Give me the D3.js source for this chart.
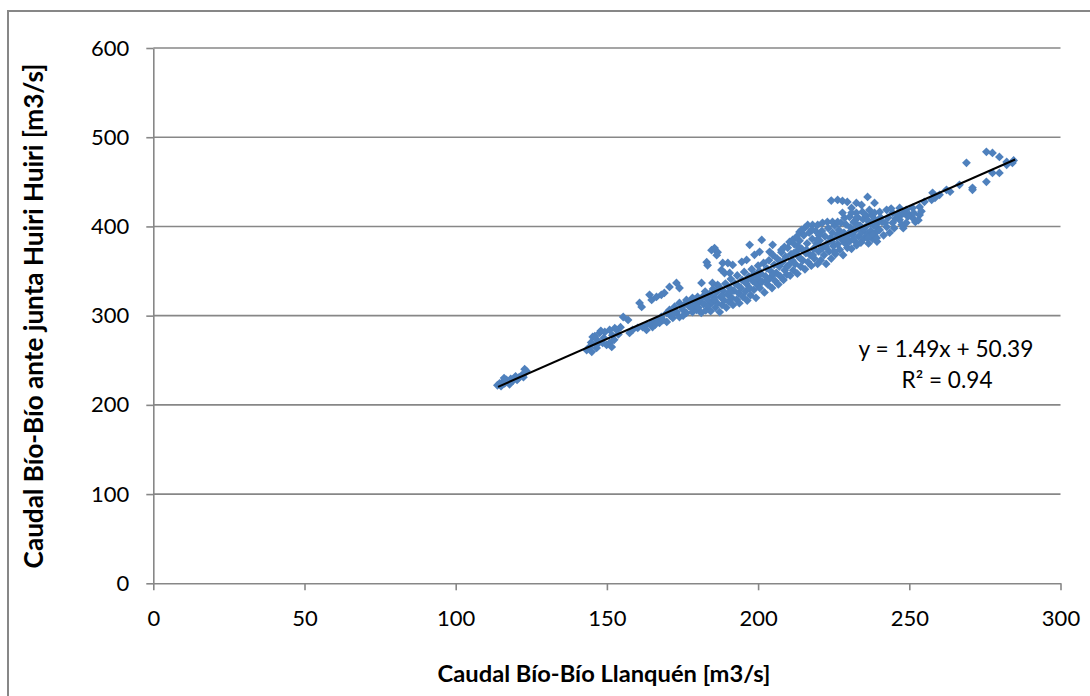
<!DOCTYPE html>
<html><head><meta charset="utf-8">
<script src="https://cdn.jsdelivr.net/npm/d3@7"></script>
<style>
html,body{margin:0;padding:0;background:#fff;}
svg{display:block;}
text{font-family:Lato,"Open Sans",sans-serif;fill:#000;}
</style></head>
<body>
<svg id="chart" width="1090" height="696"></svg>
<script>
// ---- data ----
const xTicks = [0, 50, 100, 150, 200, 250, 300];
const yTicks = [0, 100, 200, 300, 400, 500, 600];
const xTitle = "Caudal Bío-Bío Llanquén [m3/s]";
const yTitle = "Caudal Bío-Bío ante junta Huiri Huiri [m3/s]";
const slope = 1.49, intercept = 50.39;
const trendRange = [114, 285];
const eqText = "y = 1.49x + 50.39";
const r2Text = "R² = 0.94";

const clusterLow = [[113.8,222],[114.5,224],[115,221],[115.6,226],[116.2,224],[116.8,228],[117.3,226],[117.8,223],[118.2,229],[118.9,227],[119.5,230],[120.3,228],[121,231],[121.8,233],[122.4,231],[123,236],[123.4,238],[116,230],[119.8,232],[122.8,240]];
const clusterB = [[143.3,261.5],[145,259.4],[144.3,265],[145.3,276.2],[146.6,263.8],[146.6,267.2],[147.6,280.7],[148.6,269.4],[149.3,281.7],[149.9,267.2],[150.9,269.4],[150.9,284],[151.6,265],[153.2,284],[152.4,273],[147,272],[144.8,270],[149,275],[151.8,278],[153.8,279],[155.4,298.5],[157,295.2],[154.5,287],[146,277],[148,283],[152.6,286]];
const clusterC = [[157.5,280.6],[158.5,284],[160.2,286.2],[161.8,287.3],[163.1,289.6],[164.8,291.8],[166.4,295.2],[168,298.5],[169.8,303],[170.7,306.4],[172.4,310],[174,314.3],[176.3,317.6],[178.3,319.8],[180,321],[163.1,284],[165.1,287.3],[167.4,291.8],[169.8,293],[171.8,297.4],[174,298.5],[176.3,303],[178.3,304.1],[179.6,306.4],[160.8,314.3],[161.5,309.8],[164.1,323.3],[164.8,317.6],[166.4,321],[168,323.3],[169,325.5],[170.7,332.2],[173,336.7],[174,331],[166,290],[168.5,295],[171,300],[173,304],[175,307],[177,311],[179,313],[172,302],[175.5,312],[177.5,316],[179,318],[175.2,300],[177.8,309]];
const clusterD = [[184.6,373.4],[185.6,375.7],[186.6,371.2],[186.3,367.8],[183,359.9],[183.3,356.5],[188.3,359],[190,359],[191.6,356.8],[188.9,347.8],[190.6,347.8],[187.9,351.2],[181.3,336.7],[184.9,336.7],[186.6,334.4],[197.2,379.4],[201.2,384.9],[204.8,379.4],[203.8,371.5],[200.5,371.5],[198.8,368.2],[196.2,362.5],[194.6,360.3]];
const band1 = [[180.3,309],[180.7,316],[181.2,303],[181.6,321],[182,313],[182.5,327],[182.7,306],[183.2,318],[183.6,311],[183.9,324],[184.3,305],[184.8,315],[185.1,330],[185.4,320],[185.9,309],[186.2,326],[186.5,314],[187,333],[187.3,304],[187.6,321],[188.1,312],[188.4,328],[188.8,317],[189.2,336],[189.5,309],[189.9,324],[190.3,316],[190.6,331]];
const band2 = [[191,341],[191.3,320],[191.7,312],[192,328],[192.4,336],[192.9,318],[193.1,345],[193.6,325],[193.8,314],[194.3,331],[194.7,340],[195,321],[195.4,349],[195.8,327],[196.1,336],[196.4,317],[196.9,344],[197.2,331],[197.5,323],[197.9,352],[198.2,339],[198.6,329],[198.9,346],[199.3,320],[199.6,335],[200,356],[200.1,341]];
const band3 = [[200.6,331],[201,347],[201.3,338],[201.8,359],[202.1,326],[202.5,344],[202.9,353],[203.2,335],[203.6,362],[203.9,342],[204.2,350],[204.6,331],[204.9,368],[205.3,357],[205.6,339],[206,348],[206.3,364],[206.7,335],[207,355],[207.4,344],[207.7,371],[208.1,360],[208.4,340],[208.8,351],[209.1,366],[209.5,346],[209.8,376],[210.2,357],[207.7,373.7],[208.7,377],[210.4,382.6]];
const band4 = [[210.6,345],[210.9,369],[211.3,362],[211.6,351],[212,380],[212.3,358],[212.7,372],[213,347],[213.4,366],[213.7,384],[214.1,355],[214.4,375],[214.8,362],[215.1,390],[215.5,352],[215.8,370],[216.2,381],[216.5,360],[216.9,393],[217.2,368],[217.6,356],[217.9,386],[218.3,375],[218.6,364],[219,395],[219.3,381],[219.7,358],[220,372],[211.4,384.9],[212.7,388.3],[213.7,393.9],[215.4,398.3],[216.4,401.7],[218,401.7],[219.7,401.7],[214.4,396],[217.7,396]];
const band5 = [[220.4,384],[220.7,362],[221.1,395],[221.4,376],[221.8,368],[222.1,389],[222.5,358],[222.8,381],[223.2,398],[223.5,372],[223.9,387],[224.2,364],[224.6,393],[224.9,378],[225.3,401],[225.6,369],[226,388],[226.3,380],[226.7,396],[227,374],[227.4,404],[227.7,385],[228.1,368],[228.4,393],[228.8,381],[229.1,402],[229.5,376],[229.8,390],[221.3,404],[222.9,405],[224.6,405],[226.3,405],[228.6,409.6],[227.9,415.2]];
const band6 = [[230.2,383],[230.5,399],[230.9,375],[231.2,391],[231.6,405],[231.9,384],[232.3,396],[232.6,379],[233,410],[233.3,389],[233.7,401],[234,382],[234.4,394],[234.7,408],[235.1,387],[235.4,399],[235.8,412],[236.1,392],[236.5,381],[236.8,404],[237.2,395],[237.5,413],[237.9,386],[238.2,401],[238.6,408],[238.9,393],[239.3,383],[239.6,404]];
const bandFill = [[185.5,318],[188,322],[190.8,326],[193.3,334],[195.9,339],[198,344],[200.4,350],[202.8,339],[205,346],[207.2,361],[209.6,355],[211.8,370],[214,364],[216,374],[218.1,368],[220.2,390],[222.4,377],[224.4,383],[226.5,391],[228.6,386],[230.7,395],[232.8,402],[234.9,397],[237,389],[239.1,399],[213.2,378],[219.5,385],[225.1,372],[231.4,386],[236.3,407]];
const upperOut = [[224.2,429],[226.3,429.7],[227.9,428.6],[229.5,427.5],[230.9,420.7],[232.5,426.3],[234.2,424],[236.2,433.1],[236.8,418.5],[234.5,416.3],[232.5,415.2],[230.9,415.2],[230.2,410.7],[232.5,409.6],[238.5,426.4],[238.5,415.2]];
const clusterE = [[240.2,416.3],[242.5,418.6],[244.5,415.2],[246.8,420.8],[249,418.6],[251.1,420.8],[253.4,421.9],[253.4,412.9],[251.1,409.6],[249,404],[246.8,407.4],[244.5,404],[242.5,399.5],[240.2,396.1],[237.9,390.5],[239.2,387.1],[236.2,387.1],[241,405],[243,410],[245,398],[247,412],[248,398],[250,413],[252,405],[254,417],[241.5,390],[243.5,393],[245.5,409],[247.5,402],[249.5,411],[251.5,415],[253,407],[240.5,410],[242,404],[244,420],[246,414],[248,415]];
const clusterHigh = [[255,427.6],[257.4,429.8],[257.7,437.7],[260,435.4],[262.3,441],[266.6,446.6],[268.9,471.3],[270.9,443.3],[270.9,441],[275.5,450],[275.5,483.6],[277.5,482.4],[279.8,477.9],[277.5,460],[279.8,460],[282.2,472.3],[284.1,471.2],[282.2,469],[284.5,474],[263.5,439],[258.5,432]];

const points = [].concat(clusterLow, clusterB, clusterC, clusterD, band1, band2, band3, band4, band5, band6, bandFill, upperOut, clusterE, clusterHigh);

// ---- layout ----
const svg = d3.select("#chart");
const mLeft = 153.3, mRight = 1060.5, mTop = 48, mBottom = 583.3;
const x = d3.scaleLinear().domain([0, 300]).range([mLeft, mRight]);
const y = d3.scaleLinear().domain([0, 600]).range([mBottom, mTop]);
const grey = "#878787";

svg.append("rect").attr("x", 8).attr("y", 11).attr("width", 1100).attr("height", 720)
  .attr("fill", "none").attr("stroke", grey).attr("stroke-width", 2);

// gridlines
svg.append("g").selectAll("line").data(yTicks.filter(d => d > 0)).join("line")
  .attr("x1", mLeft).attr("x2", mRight)
  .attr("y1", d => y(d)).attr("y2", d => y(d))
  .attr("stroke", grey).attr("stroke-width", 1.6);

// axes
const xAxis = d3.axisBottom(x).tickValues(xTicks).tickSize(7).tickPadding(20).tickSizeOuter(0);
const gx = svg.append("g").attr("transform", `translate(0,${mBottom})`).call(xAxis);
const yAxis = d3.axisLeft(y).tickValues(yTicks).tickSize(7).tickPadding(17).tickSizeOuter(0);
const gy = svg.append("g").attr("transform", `translate(${mLeft},0)`).call(yAxis);
[gx, gy].forEach(g => {
  g.select(".domain").attr("stroke", grey).attr("stroke-width", 1.6);
  g.selectAll(".tick line").attr("stroke", grey).attr("stroke-width", 1.6);
  g.selectAll(".tick text").attr("font-family", "Lato, sans-serif").attr("font-size", 22).attr("fill", "#000");
});

// points
const dia = "M0,-4.4L4.4,0L0,4.4L-4.4,0Z";
svg.append("g").selectAll("path").data(points).join("path")
  .attr("d", dia)
  .attr("transform", d => `translate(${x(d[0])},${y(d[1])})`)
  .attr("fill", "#4F81BD");

// trendline
svg.append("line")
  .attr("x1", x(trendRange[0])).attr("y1", y(slope * trendRange[0] + intercept))
  .attr("x2", x(trendRange[1])).attr("y2", y(slope * trendRange[1] + intercept))
  .attr("stroke", "#000").attr("stroke-width", 2);

function fit(t, w) {
  const cur = t.node().getComputedTextLength();
  const fs = parseFloat(t.attr("font-size"));
  if (cur > 0) t.attr("font-size", fs * w / cur);
}

// equation
const eq = svg.append("text").attr("x", 946).attr("y", 357).attr("text-anchor", "middle").attr("font-size", 22).text(eqText);
fit(eq, 175);
const r2 = svg.append("text").attr("x", 947).attr("y", 388).attr("text-anchor", "middle").attr("font-size", 22).text(r2Text);
fit(r2, 91);

// titles
const xt = svg.append("text").attr("x", 604).attr("y", 682).attr("text-anchor", "middle")
  .attr("font-weight", "bold").attr("font-size", 21).text(xTitle);
fit(xt, 333);
const yt = svg.append("text").attr("transform", "translate(43,316) rotate(-90)").attr("text-anchor", "middle")
  .attr("font-weight", "bold").attr("font-size", 21).text(yTitle);
fit(yt, 505);
</script>
</body></html>
